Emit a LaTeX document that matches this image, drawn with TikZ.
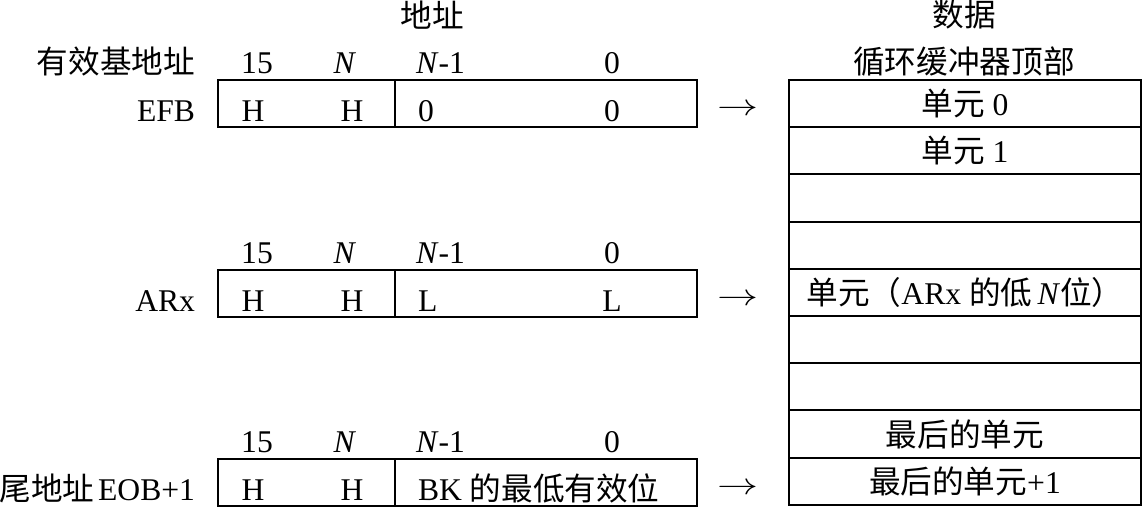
\documentclass[tikz,border=0pt]{standalone}
\usepackage{fontspec}
\setmainfont{Liberation Serif}
\newfontfamily\cjk{Noto Sans CJK SC}
\newcommand{\zh}[1]{{\cjk #1}}
\usetikzlibrary{positioning}

\begin{document}
\begin{tikzpicture}[x=0.02cm, y=-0.02cm, line width=1.2pt,
  every node/.style={inner sep=0pt, outer sep=0pt, font=\fontsize{18}{21}\selectfont},
  cell/.style={draw, anchor=north west, minimum width=7.04cm, minimum height=0.944cm}]
  \useasboundingbox (0,0) rectangle (1143,507);
  \def\xl{218}
  \def\xm{395}
  \def\xr{697}
  \def\ml{789}
  \def\h{47.2}

  \node (addr) at (432,15) {\zh{地址}};
  \node (data) at (964,15) {\zh{数据}};
  \node[anchor=base] (bufftop) at (964,73) {\zh{循环缓冲器顶部}};

  % registers
  \foreach \r/\t in {efb/80, arx/270, eob/459}{
    \draw (\xl,\t) rectangle (\xr,\t+\h);
    \draw (\xm,\t) -- (\xm,\t+\h);
    \node[anchor=base] (\r-b15) at (257,\t-7) {15};
    \node[anchor=base] (\r-bn) at (345,\t-7) {\textit{N}};
    \node[anchor=base west] (\r-bn1) at (416,\t-7) {\textit{N}-1};
    \node[anchor=base] (\r-b0) at (612,\t-7) {0};
    \node[anchor=base] (\r-h1) at (253,\t+41) {H};
    \node[anchor=base] (\r-h2) at (352,\t+41) {H};
    \node (\r-to) at (738,\t+30) {\scalebox{1.35}[1]{$\rightarrow$}};
  }
  \node[anchor=base east] (efbname) at (195,73) {\zh{有效基地址}};
  \node[anchor=base east] (efb) at (195,121) {EFB};
  \node[anchor=base east] (arx) at (195,311) {ARx};
  \node[anchor=base east] (eob) at (195,500) {\zh{尾地址}\kern2pt EOB+1};

  \node[anchor=base west] (efb-l1) at (418,121) {0};
  \node[anchor=base] (efb-l2) at (612,121) {0};
  \node[anchor=base west] (arx-l1) at (418,311) {L};
  \node[anchor=base] (arx-l2) at (612,311) {L};
  \node[anchor=base west] (eob-l1) at (418,500) {BK \zh{的最低有效位}};

  % circular buffer
  \foreach \i/\txt in {0/{\zh{单元} 0}, 1/{\zh{单元} 1}, 2/{}, 3/{},
      4/{\zh{单元（}ARx \zh{的低}\,\textit{N}\zh{位）}}, 5/{}, 6/{},
      7/{\zh{最后的单元}}, 8/{\zh{最后的单元}+1}}{
    \node[cell] (cell\i) at (\ml,80+\i*\h) {\txt};
  }
\end{tikzpicture}
\end{document}
